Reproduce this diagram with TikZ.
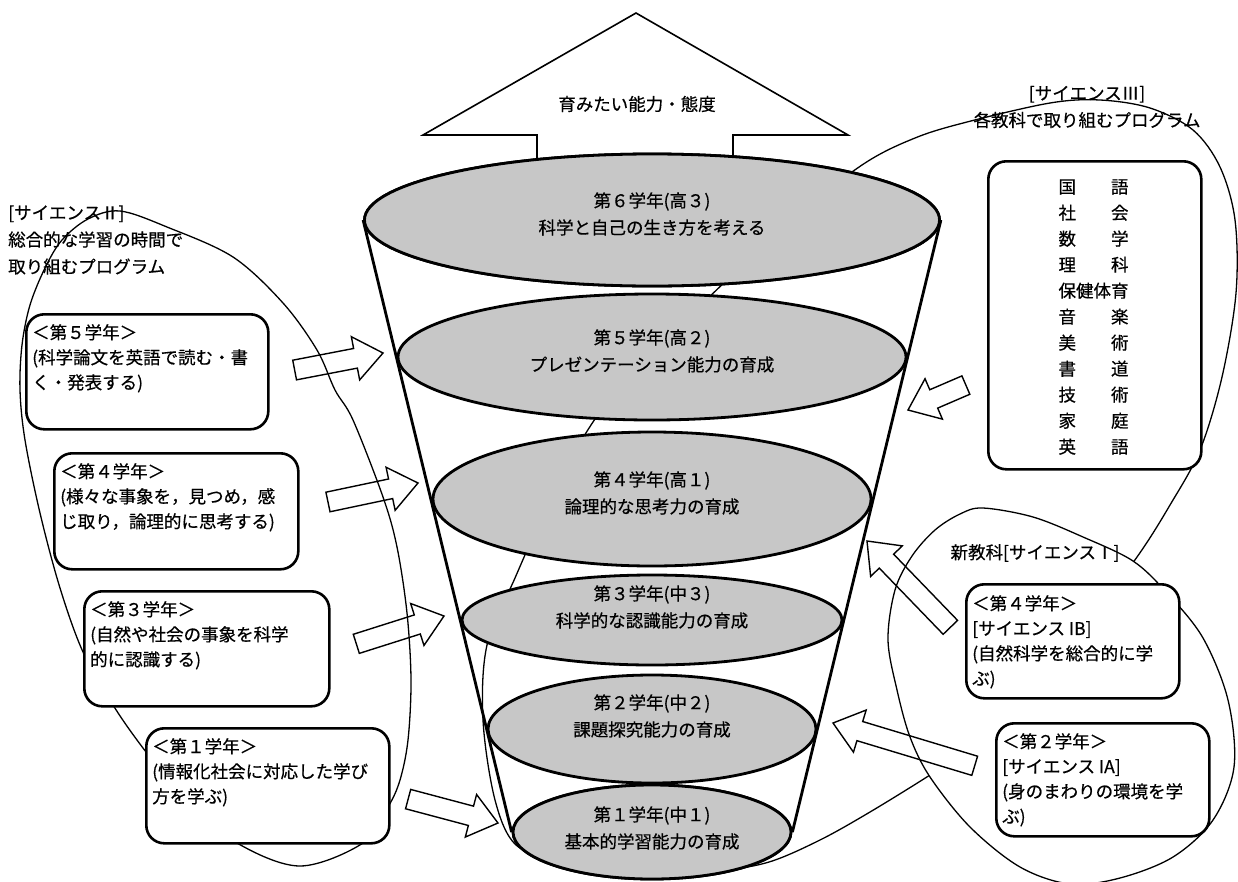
\documentclass[tikz,border=0pt]{standalone}
\usepackage{fontspec}
\setmainfont{Noto Sans CJK JP}[FakeBold=0.5]
\usetikzlibrary{shapes.geometric}
\definecolor{stip}{gray}{0.78}
\tikzset{
 lvl/.style={ellipse, draw, line width=2.8pt, fill=stip, inner sep=0pt},
 lvltext/.style={align=center, font=\fontsize{17.5}{27}\selectfont, inner sep=0pt},
 rbox/.style={draw, line width=2.6pt, rounded corners=18pt, fill=white, inner sep=0pt, anchor=north west},
 btext/.style={anchor=north west, align=left, font=\fontsize{17.5}{25}\selectfont, inner sep=0pt},
 lbl/.style={font=\fontsize{17.5}{27}\selectfont, inner sep=0pt},
 blk/.style={draw, line width=1.4pt, fill=white, line join=miter},
 bigloop/.style={draw, line width=1.3pt},
 funnel/.style={line width=2.8pt},
}
\newcommand\blockarrow[4]{%
 \begin{scope}[shift={(#1,#2)}, rotate=#3]
 \path[blk] (0,0) -- (-28,22) -- (-28,10) -- (-#4,10) -- (-#4,-10) -- (-28,-10) -- (-28,-22) -- cycle;
 \end{scope}}
\begin{document}
\begin{tikzpicture}[x=1pt,y=-1pt]
\useasboundingbox (0,0) rectangle (1238,881);
\fill[white] (0,0) rectangle (1238,881);

% growth arrow
\draw[line width=1.6pt, fill=white, line join=miter] (537,185) -- (537,135) -- (423,135) -- (636,13) -- (848,135) -- (733,135) -- (733,185);
\node[lbl] (goal) at (637,104) {育みたい能力・態度};

% Science III loop
\draw[bigloop] plot[smooth cycle, tension=0.55] coordinates {
 (862,165) (915,138) (967,122) (1050,103) (1100,100) (1150,108) (1193,130) (1220,167)
 (1235,220) (1236,293) (1222,377) (1200,450) (1170,505) (1137,557) (1085,625) (1030,690)
 (975,745) (930,775) (870,812) (820,840) (769,862) (720,870) (640,872) (560,860)
 (516,845) (495,800) (483,720) (487,645) (515,578) (550,500) (591,425) (645,355)
 (708,298) (785,225)};

% Science I loop fill
\fill[white] plot[smooth cycle, tension=0.55] coordinates {
 (983,508) (1033,517) (1083,537) (1133,561) (1167,593) (1203,638) (1228,700) (1234,767)
 (1213,820) (1173,857) (1120,878) (1070,884) (1020,867) (970,827) (930,777) (910,737)
 (897,690) (888,640) (895,590) (912,556) (935,530) (960,514)};

% block arrows
\blockarrow{383}{353}{10.9}{90}
\blockarrow{418}{483}{11.9}{92}
\blockarrow{444}{616}{17.6}{92}
\blockarrow{498}{823}{-14.9}{93}
\blockarrow{908}{410}{203.3}{63}
\blockarrow{867}{541}{134}{120}
\blockarrow{833}{723}{163.2}{148}

% Science I loop outline
\draw[bigloop] plot[smooth cycle, tension=0.55] coordinates {
 (983,508) (1033,517) (1083,537) (1133,561) (1167,593) (1203,638) (1228,700) (1234,767)
 (1213,820) (1173,857) (1120,878) (1070,884) (1020,867) (970,827) (930,777) (910,737)
 (897,690) (888,640) (895,590) (912,556) (935,530) (960,514)};

% Science II loop
\draw[bigloop] plot[smooth cycle, tension=0.55] coordinates {
 (120,211) (167,227) (233,257) (283,303) (317,350) (335,390) (353,420) (383,497)
 (397,547) (407,613) (411,680) (408,740) (400,780) (388,807) (363,843) (300,866)
 (237,843) (185,800) (143,748) (113,705) (83,652) (60,588) (40,513) (25,440)
 (20,390) (22,345) (30,305) (45,268) (62,240) (88,219)};

% headers
\node[lbl, anchor=west, align=left] (s2) at (8,240) {{[}サイエンスⅡ{]}\\総合的な学習の時間で\\取り組むプログラム};
\node[lbl, align=center] (s3) at (1087,107) {{[}サイエンスⅢ{]}\\各教科で取り組むプログラム};
\node[lbl] (s1) at (1035,553) {新教科{[}サイエンスⅠ{]}};

% left boxes
\node[rbox, minimum width=242pt, minimum height=115pt] (b5) at (25,313) {};
\node[btext] (b5t) at (32,324) {＜第５学年＞\\(科学論文を英語で読む・書\\く・発表する)};
\node[rbox, minimum width=244pt, minimum height=116pt] (b4) at (53,452) {};
\node[btext] (b4t) at (60,463) {＜第４学年＞\\(様々な事象を，見つめ，感\\じ取り，論理的に思考する)};
\node[rbox, minimum width=245pt, minimum height=115pt] (b3) at (83,590) {};
\node[btext] (b3t) at (90,601) {＜第３学年＞\\(自然や社会の事象を科学\\的に認識する)};
\node[rbox, minimum width=243pt, minimum height=115pt] (b1) at (145,727) {};
\node[btext] (b1t) at (152,738) {＜第１学年＞\\(情報化社会に対応した学び\\方を学ぶ)};

% right boxes
\node[rbox, minimum width=213pt, minimum height=308pt] (subj) at (987,160) {};
\node[lbl, align=center, font=\fontsize{17.5}{26}\selectfont] (subjt) at (1093.5,317) {国　　語\\社　　会\\数　　学\\理　　科\\保健体育\\音　　楽\\美　　術\\書　　道\\技　　術\\家　　庭\\英　　語};
\node[rbox, minimum width=213pt, minimum height=114pt] (bIB) at (965,583) {};
\node[btext] (bIBt) at (972,595) {＜第４学年＞\\{[}サイエンス IB{]}\\(自然科学を総合的に学\\ぶ)};
\node[rbox, minimum width=213pt, minimum height=113pt] (bIA) at (995,722) {};
\node[btext] (bIAt) at (1002,733) {＜第２学年＞\\{[}サイエンス IA{]}\\(身のまわりの環境を学\\ぶ)};

% funnel
\node[lvl, minimum width=575pt, minimum height=132pt] (e6) at (652,220) {};
\node[lvl, minimum width=278pt, minimum height=94pt] (e1) at (652,832) {};
\draw[funnel] (e6.west) -- (e1.west);
\draw[funnel] (e6.east) -- (e1.east);
\node[lvl, minimum width=575pt, minimum height=132pt] (e6b) at (652,220) {};
\node[lvl, minimum width=508pt, minimum height=126pt] (e5) at (652,357) {};
\node[lvl, minimum width=438pt, minimum height=134pt] (e4) at (652,499) {};
\node[lvl, minimum width=380pt, minimum height=90pt] (e3) at (652,620) {};
\node[lvl, minimum width=328pt, minimum height=108pt] (e2) at (652,729) {};
\node[lvl, minimum width=278pt, minimum height=94pt] (e1b) at (652,832) {};

\node[lvltext] (t6) at (652,214) {第６学年(高３)\\科学と自己の生き方を考える};
\node[lvltext] (t5) at (652,351) {第５学年(高２)\\プレゼンテーション能力の育成};
\node[lvltext] (t4) at (652,493) {第４学年(高１)\\論理的な思考力の育成};
\node[lvltext] (t3) at (652,607) {第３学年(中３)\\科学的な認識能力の育成};
\node[lvltext] (t2) at (652,716) {第２学年(中２)\\課題探究能力の育成};
\node[lvltext] (t1) at (652,828) {第１学年(中１)\\基本的学習能力の育成};
\end{tikzpicture}
\end{document}
